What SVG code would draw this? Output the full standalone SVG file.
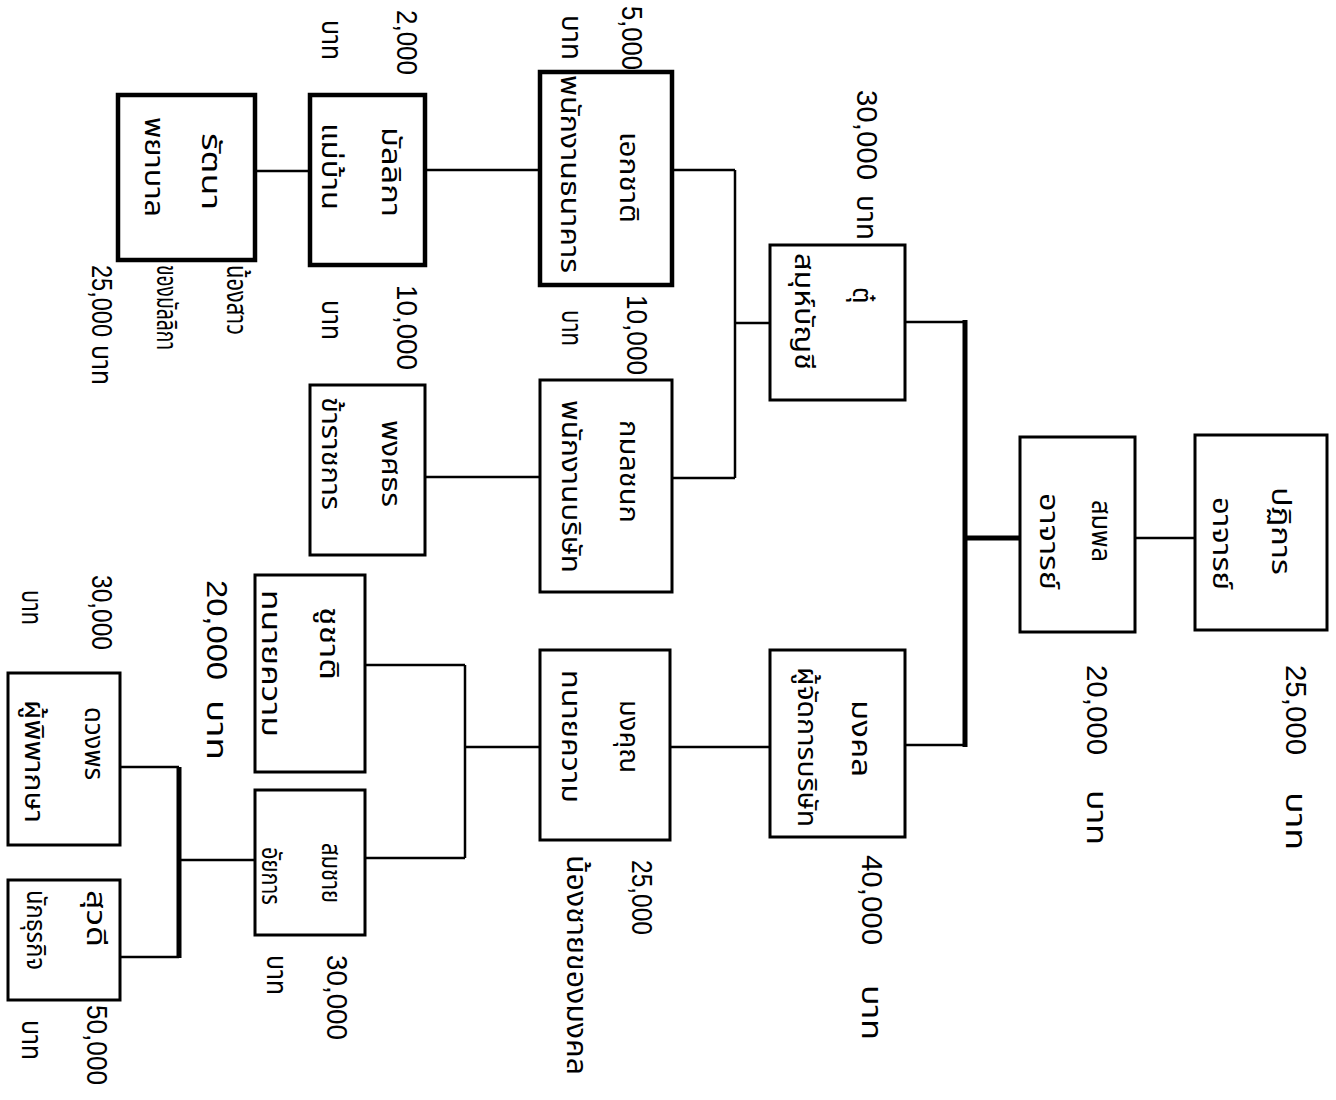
<svg xmlns="http://www.w3.org/2000/svg" width="1336" height="1100" viewBox="0 0 1336 1100">
<style>
.box{fill:#fff;stroke:#000;stroke-width:3}
.bk{stroke-width:4.5}
.ln{stroke:#000;stroke-width:2.5;fill:none}
.th{stroke-width:5}
text{font-family:"Noto Sans Thai","Noto Sans","DejaVu Sans","Liberation Sans",sans-serif;fill:#000;font-size:26px}
.amt{font-family:"Liberation Sans","DejaVu Sans",sans-serif;font-size:30px}
.lb{font-size:28px}
</style>
<rect width="1336" height="1100" fill="#fff"/>
<g id="connectors">
<path class="ln" d="M1135 538H1195"/>
<path class="ln th" d="M965 538H1020"/>
<path class="ln th" d="M965 320V747"/>
<path class="ln" d="M905 322H965M905 745H965"/>
<path class="ln" d="M735 323H770"/>
<path class="ln" d="M735 170V478M672 170H735M672 478H735"/>
<path class="ln" d="M425 170H540"/>
<path class="ln" d="M255 171H310"/>
<path class="ln" d="M425 477H540"/>
<path class="ln" d="M670 747H770"/>
<path class="ln" d="M465 747H540M465 665V858M365 665H465M365 858H465"/>
<path class="ln" d="M180 860H255"/>
<path class="ln th" d="M179 767V958"/>
<path class="ln" d="M120 767H179M120 957H179"/>
</g>
<g id="n1"><rect class="box" x="1195" y="435" width="132" height="195"/>
<g transform="rotate(90)"><text x="487" y="-1272" textLength="88" lengthAdjust="spacingAndGlyphs">ปฏิการ</text><text x="497" y="-1213" textLength="93" lengthAdjust="spacingAndGlyphs">อาจารย์</text></g></g>
<g id="n2"><rect class="box" x="1020" y="437" width="115" height="195"/>
<g transform="rotate(90)"><text x="500" y="-1092" textLength="62" lengthAdjust="spacingAndGlyphs">สมพล</text><text x="493" y="-1040" textLength="97" lengthAdjust="spacingAndGlyphs">อาจารย์</text></g></g>
<g id="n3"><rect class="box" x="770" y="245" width="135" height="155"/>
<g transform="rotate(90)"><text x="287" y="-853">ตุ๋</text><text x="253" y="-795" textLength="117" lengthAdjust="spacingAndGlyphs">สมุห์บัญชี</text></g></g>
<g id="n4"><rect class="box bk" x="540" y="72" width="132" height="213"/>
<g transform="rotate(90)"><text x="132" y="-620" textLength="91" lengthAdjust="spacingAndGlyphs">เอกชาติ</text><text x="75" y="-561" textLength="198" lengthAdjust="spacingAndGlyphs">พนักงานธนาคาร</text></g></g>
<g id="n5"><rect class="box" x="540" y="380" width="132" height="212"/>
<g transform="rotate(90)"><text x="420" y="-620" textLength="103" lengthAdjust="spacingAndGlyphs">กมลชนก</text><text x="400" y="-562" textLength="173" lengthAdjust="spacingAndGlyphs">พนักงานบริษัท</text></g></g>
<g id="n6"><rect class="box bk" x="310" y="95" width="115" height="170"/>
<g transform="rotate(90)"><text x="127" y="-382" textLength="90" lengthAdjust="spacingAndGlyphs">มัลลิกา</text><text x="123" y="-322" textLength="87" lengthAdjust="spacingAndGlyphs">แม่บ้าน</text></g></g>
<g id="n7"><rect class="box bk" x="118" y="95" width="137" height="165"/>
<g transform="rotate(90)"><text x="133" y="-202" textLength="77" lengthAdjust="spacingAndGlyphs">รัตนา</text><text x="117" y="-145" textLength="100" lengthAdjust="spacingAndGlyphs">พยาบาล</text></g></g>
<g id="n8"><rect class="box" x="310" y="385" width="115" height="170"/>
<g transform="rotate(90)"><text x="420" y="-382" textLength="87" lengthAdjust="spacingAndGlyphs">พงศธร</text><text x="397" y="-322" textLength="113" lengthAdjust="spacingAndGlyphs">ข้าราชการ</text></g></g>
<g id="n9"><rect class="box" x="770" y="650" width="135" height="187"/>
<g transform="rotate(90)"><text x="700" y="-852" textLength="77" lengthAdjust="spacingAndGlyphs">มงคล</text><text x="667" y="-798" textLength="160" lengthAdjust="spacingAndGlyphs">ผู้จัดการบริษัท</text></g></g>
<g id="n10"><rect class="box" x="540" y="650" width="130" height="190"/>
<g transform="rotate(90)"><text x="700" y="-620" textLength="73" lengthAdjust="spacingAndGlyphs">มงคุณ</text><text x="670" y="-562" textLength="133" lengthAdjust="spacingAndGlyphs">ทนายความ</text></g></g>
<g id="n11"><rect class="box" x="255" y="575" width="110" height="197"/>
<g transform="rotate(90)"><text x="607" y="-320" textLength="73" lengthAdjust="spacingAndGlyphs">ชูชาติ</text><text x="590" y="-262" textLength="147" lengthAdjust="spacingAndGlyphs">ทนายความ</text></g></g>
<g id="n12"><rect class="box" x="255" y="790" width="110" height="145"/>
<g transform="rotate(90)"><text x="843" y="-322" textLength="60" lengthAdjust="spacingAndGlyphs">สมชาย</text><text x="847" y="-262" textLength="58" lengthAdjust="spacingAndGlyphs">อัยการ</text></g></g>
<g id="n13"><rect class="box" x="8" y="673" width="112" height="172"/>
<g transform="rotate(90)"><text x="707" y="-85" textLength="73" lengthAdjust="spacingAndGlyphs">ดวงพร</text><text x="700" y="-25" textLength="123" lengthAdjust="spacingAndGlyphs">ผู้พิพากษา</text></g></g>
<g id="n14"><rect class="box" x="8" y="880" width="112" height="120"/>
<g transform="rotate(90)"><text x="890" y="-87" textLength="57" lengthAdjust="spacingAndGlyphs">สุวดี</text><text x="890" y="-27" textLength="80" lengthAdjust="spacingAndGlyphs">นักธุรกิจ</text></g></g>
<g id="labels" transform="rotate(90)">
<text class="amt" x="665" y="-1286" textLength="90" lengthAdjust="spacingAndGlyphs">25,000</text><text class="lb" x="792" y="-1286" textLength="58" lengthAdjust="spacingAndGlyphs">บาท</text>
<text class="amt" x="665" y="-1087" textLength="90" lengthAdjust="spacingAndGlyphs">20,000</text><text class="lb" x="790" y="-1087" textLength="55" lengthAdjust="spacingAndGlyphs">บาท</text>
<text class="amt" x="855" y="-862" textLength="90" lengthAdjust="spacingAndGlyphs">40,000</text><text class="lb" x="985" y="-862" textLength="55" lengthAdjust="spacingAndGlyphs">บาท</text>
<text class="amt" x="90" y="-857" textLength="90" lengthAdjust="spacingAndGlyphs">30,000</text><text class="lb" x="195" y="-857" textLength="45" lengthAdjust="spacingAndGlyphs">บาท</text>
<text class="amt" x="6" y="-622" textLength="64" lengthAdjust="spacingAndGlyphs">5,000</text><text class="lb" x="15" y="-562" textLength="45" lengthAdjust="spacingAndGlyphs">บาท</text>
<text class="amt" x="10" y="-397" textLength="65" lengthAdjust="spacingAndGlyphs">2,000</text><text class="lb" x="20" y="-322" textLength="40" lengthAdjust="spacingAndGlyphs">บาท</text>
<text class="amt" x="285" y="-397" textLength="85" lengthAdjust="spacingAndGlyphs">10,000</text><text class="lb" x="300" y="-322" textLength="40" lengthAdjust="spacingAndGlyphs">บาท</text>
<text class="amt" x="295" y="-627" textLength="80" lengthAdjust="spacingAndGlyphs">10,000</text><text class="lb" x="310" y="-562" textLength="36" lengthAdjust="spacingAndGlyphs">บาท</text>
<text class="lb" x="265" y="-227" textLength="70" lengthAdjust="spacingAndGlyphs">น้องสาว</text>
<text class="lb" x="265" y="-157" textLength="85" lengthAdjust="spacingAndGlyphs">ของมัลลิกา</text>
<text class="amt" x="265" y="-92" textLength="72" lengthAdjust="spacingAndGlyphs">25,000</text><text class="lb" x="345" y="-92" textLength="40" lengthAdjust="spacingAndGlyphs">บาท</text>
<text class="amt" x="580" y="-207" textLength="100" lengthAdjust="spacingAndGlyphs">20,000</text><text class="lb" x="700" y="-207" textLength="60" lengthAdjust="spacingAndGlyphs">บาท</text>
<text class="amt" x="575" y="-92" textLength="75" lengthAdjust="spacingAndGlyphs">30,000</text><text class="lb" x="590" y="-22" textLength="35" lengthAdjust="spacingAndGlyphs">บาท</text>
<text class="amt" x="860" y="-632" textLength="75" lengthAdjust="spacingAndGlyphs">25,000</text>
<text class="lb" x="855" y="-567" textLength="220" lengthAdjust="spacingAndGlyphs">น้องชายของมงคล</text>
<text class="amt" x="955" y="-327" textLength="85" lengthAdjust="spacingAndGlyphs">30,000</text><text class="lb" x="955" y="-267" textLength="40" lengthAdjust="spacingAndGlyphs">บาท</text>
<text class="amt" x="1005" y="-87" textLength="80" lengthAdjust="spacingAndGlyphs">50,000</text><text class="lb" x="1020" y="-22" textLength="40" lengthAdjust="spacingAndGlyphs">บาท</text>
</g>
</svg>
